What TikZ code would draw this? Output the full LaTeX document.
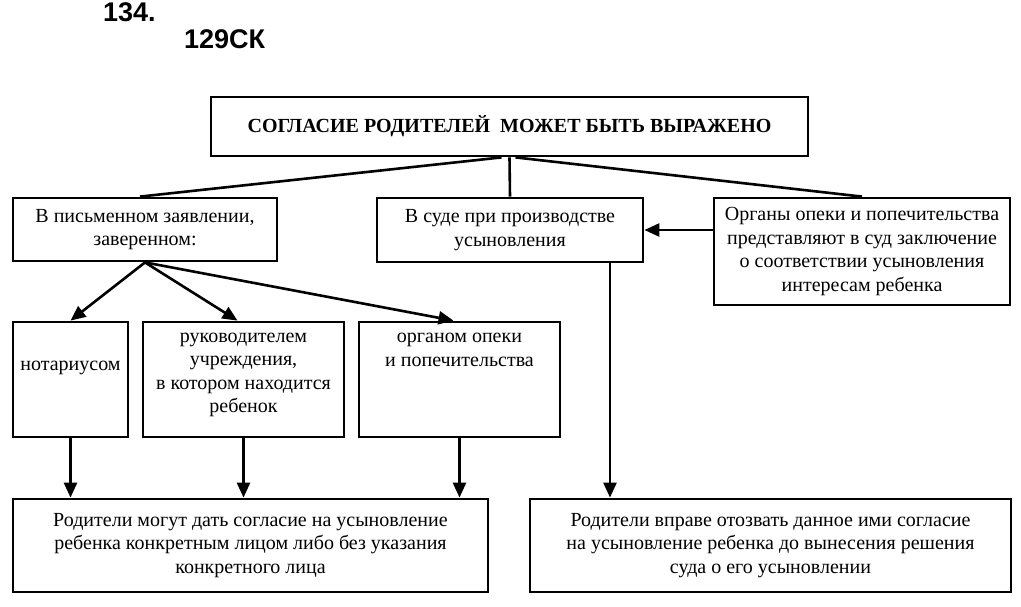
\documentclass[tikz,border=0pt]{standalone}
\usepackage{fontspec}
\setmainfont{Liberation Serif}
\newfontfamily\hdrfont{Liberation Sans}
\usetikzlibrary{arrows.meta,calc}
\begin{document}
\begin{tikzpicture}[x=1pt,y=-1pt,
  box/.style={draw, line width=2.8pt, inner sep=0pt},
  txt/.style={font=\fontsize{20}{23.5}\selectfont, align=center, inner sep=0pt},
  ttl/.style={font=\bfseries\fontsize{20}{23.5}\selectfont, inner sep=0pt},
  hdr/.style={font=\hdrfont\bfseries\fontsize{27}{30}\selectfont, inner sep=0pt, anchor=base west},
  ln/.style={line width=2.6pt},
  arr/.style={ln, -{Triangle[length=15pt,width=13pt]}}]
\useasboundingbox (0,0) rectangle (1021,606);
% header
\node[hdr] (h1) at (103,21) {134.};
\node[hdr] (h2) at (184,48) {129СК};
% boxes
\node[box, minimum width=597pt, minimum height=59pt] (top) at (509.5,126.5) {};
\node[ttl] (topt) at (top.center) {СОГЛАСИЕ РОДИТЕЛЕЙ\ \ МОЖЕТ БЫТЬ ВЫРАЖЕНО};
\node[box, txt, minimum width=264pt, minimum height=63pt] (pis) at (145,229.5) {В письменном заявлении,\\заверенном:};
\node[box, txt, minimum width=266pt, minimum height=64pt] (sud) at (510,230) {В суде при производстве\\усыновления};
\node[box, txt, minimum width=296pt, minimum height=107pt] (org) at (862,251.5) {Органы опеки и попечительства\\представляют в суд заключение\\о соответствии усыновления\\интересам ребенка};
\node[box, minimum width=115pt, minimum height=115pt] (not) at (70.5,379.5) {};
\node[txt] (nott) at (70.5,368) {нотариусом};
\node[box, minimum width=201pt, minimum height=115pt] (ruk) at (243.5,379.5) {};
\node[txt] (rukt) at (243.5,375) {руководителем\\учреждения,\\в котором находится\\ребенок};
\node[box, minimum width=201pt, minimum height=115pt] (opk) at (459.5,379.5) {};
\node[txt] (opkt) at (459.5,350) {органом опеки\\и попечительства};
\node[box, txt, minimum width=475pt, minimum height=93pt] (bl) at (250.5,545.5) {Родители могут дать согласие на усыновление\\ребенка конкретным лицом либо без указания\\конкретного лица};
\node[box, txt, minimum width=481pt, minimum height=93pt] (br) at (770.5,545.5) {Родители вправе отозвать данное ими согласие\\на усыновление ребенка до вынесения решения\\суда о его усыновлении};
% connectors from top
\draw[ln] ($(top.south)+(-8,0)$) -- ($(pis.north)+(-5,0)$);
\draw[ln] (top.south) -- (sud.north);
\draw[ln] ($(top.south)+(6,0)$) -- (org.north);
\draw[arr] (org.west |- sud.east) -- (sud.east);
% from pis
\draw[arr] (pis.south) -- (not.north);
\draw[arr] (pis.south) -- ($(ruk.north)+(-6,0)$);
\draw[arr] (pis.south) -- ($(opk.north)+(-6,0)$);
% down arrows
\draw[arr] (not.south) -- (not.south |- bl.north);
\draw[arr] (ruk.south) -- (ruk.south |- bl.north);
\draw[arr] (opk.south) -- (opk.south |- bl.north);
\coordinate (s1) at ($(sud.south)+(100,0)$);
\draw[arr] (s1) -- (s1 |- br.north);
\end{tikzpicture}
\end{document}
